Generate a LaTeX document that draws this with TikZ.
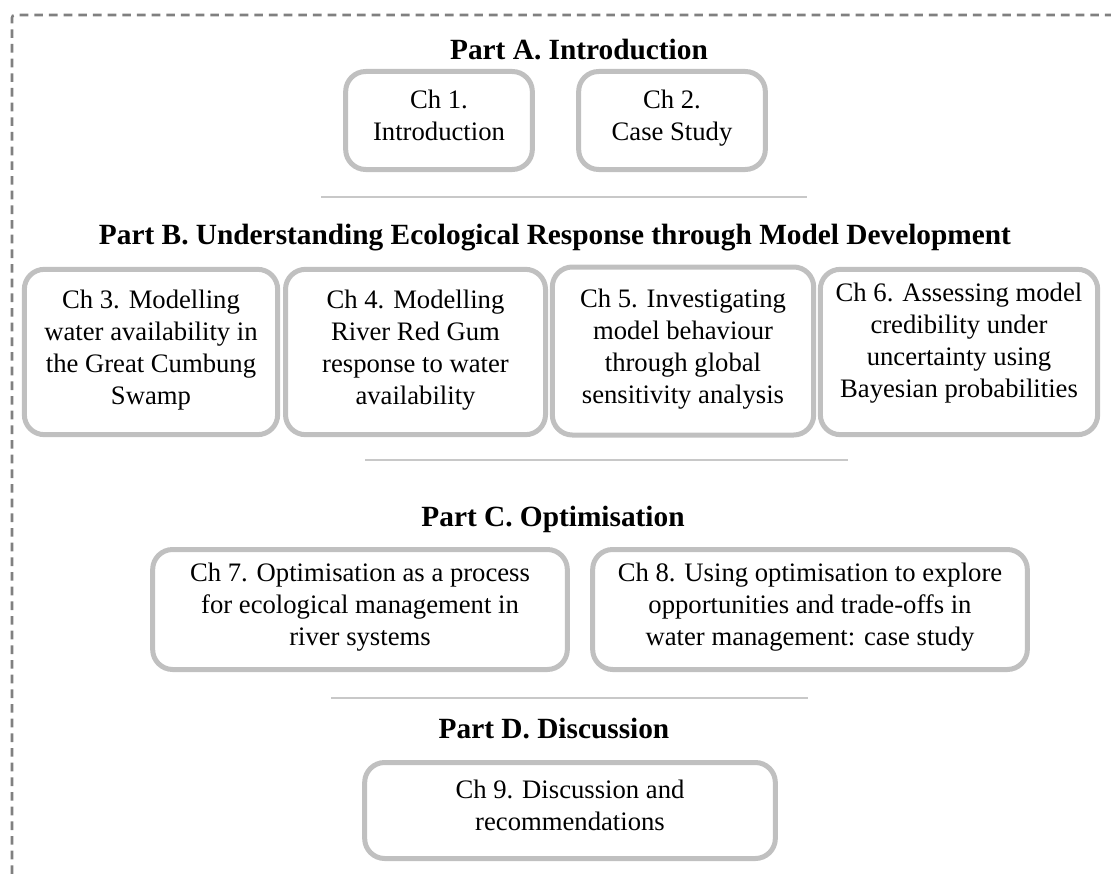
\documentclass[tikz,border=0pt]{standalone}
\usepackage{fontspec}
\setmainfont{Liberation Serif}
\definecolor{boxgray}{HTML}{C0C0C0}
\definecolor{sepgray}{HTML}{C8C8C8}
\definecolor{framegray}{HTML}{808080}
\begin{document}
\begin{tikzpicture}[x=0.75pt,y=-0.75pt,
  chbox/.style={draw=boxgray,line width=3.75pt,rounded corners=15pt,align=center,inner sep=0pt,font=\fontsize{20}{24}\selectfont,
    execute at begin node=\rule{0pt}{22pt},execute at end node=\strut},
  parttitle/.style={anchor=base,font=\fontsize{22}{26}\selectfont\bfseries},
  sepline/.style={draw=sepgray,line width=1.1pt}]
\useasboundingbox (0,0) rectangle (1111,874);
% outer frame
\draw[framegray,line width=1.9pt,dash pattern=on 6.5pt off 4.5pt,rounded corners=2pt] (12,874) -- (12,15) -- (1111,15);

% Part A
\node[parttitle] (partA) at (579,60) {Part A. Introduction};
\node[chbox,minimum width=140pt,minimum height=73.5pt] (ch1) at (439,120.5) {Ch 1.\\Introduction};
\node[chbox,minimum width=140pt,minimum height=73.5pt] (ch2) at (672,120.5) {Ch 2.\\Case Study};
\coordinate (s1a) at (321,197);
\coordinate (s1b) at (807,197);
\draw[sepline] (s1a) -- (s1b);

% Part B
\node[parttitle] (partB) at (555,244) {Part B. Understanding Ecological Response through Model Development};
\node[chbox,minimum width=190pt,minimum height=124pt] (ch3) at (151,352) {Ch 3. Modelling\\water availability in\\the Great Cumbung\\Swamp};
\node[chbox,minimum width=195pt,minimum height=124pt] (ch4) at (415.5,352) {Ch 4. Modelling\\River Red Gum\\response to water\\availability};
\node[chbox,minimum width=196pt,minimum height=126pt] (ch5) at (683,351) {Ch 5. Investigating\\model behaviour\\through global\\sensitivity analysis};
\node[chbox,minimum width=208pt,minimum height=124pt] (ch6) at (959,352) {Ch 6. Assessing model\\credibility under\\uncertainty using\\Bayesian probabilities\\[-14pt]};
\coordinate (s2a) at (365,460);
\coordinate (s2b) at (848,460);
\draw[sepline] (s2a) -- (s2b);

% Part C
\node[parttitle] (partC) at (553,526) {Part C. Optimisation};
\node[chbox,minimum width=311pt,minimum height=90pt] (ch7) at (360,609.5) {Ch 7. Optimisation as a process\\for ecological management in\\river systems};
\node[chbox,minimum width=326pt,minimum height=90pt] (ch8) at (810,609.5) {Ch 8. Using optimisation to explore\\opportunities and trade-offs in\\water management: case study};
\coordinate (s3a) at (331,698);
\coordinate (s3b) at (808,698);
\draw[sepline] (s3a) -- (s3b);

% Part D
\node[parttitle] (partD) at (554,738) {Part D. Discussion};
\node[chbox,minimum width=308pt,minimum height=72pt] (ch9) at (570,810.5) {Ch 9. Discussion and\\recommendations};
\end{tikzpicture}
\end{document}
